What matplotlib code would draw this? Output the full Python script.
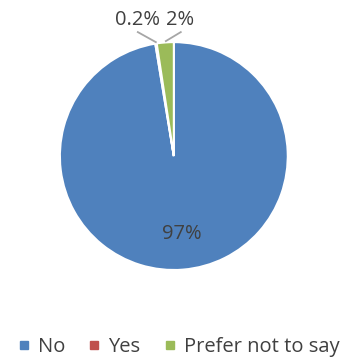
import matplotlib.pyplot as plt
from matplotlib.lines import Line2D

categories = ["No", "Yes", "Prefer not to say"]
shares = [97.4, 0.2, 2.4]
share_labels = ["97%", "0.2%", "2%"]
colors = ["#4f81bd", "#c0504d", "#9bbb59"]

plt.rcParams["font.family"] = ["Open Sans", "DejaVu Sans"]
text_color = "#404040"

fig = plt.figure(figsize=(3.48, 3.6), dpi=100)
ax = fig.add_axes([0.172, 0.250, 0.655, 0.633])

wedges, _ = ax.pie(shares, colors=colors, startangle=90, counterclock=False,
                   radius=1, wedgeprops=dict(edgecolor="white", linewidth=1.5))
ax.set_xlim(-1, 1)
ax.set_ylim(-1, 1)
ax.set_aspect("equal")
ax.axis("off")

# inside label for the big slice, callouts for the two thin ones
ax.text(0.07, -0.684, share_labels[0], ha="center", va="center",
        fontsize=14.5, color=text_color)
ax.text(-0.316, 1.19, share_labels[1], ha="center", va="center",
        fontsize=14.5, color=text_color, clip_on=False)
ax.text(0.053, 1.19, share_labels[2], ha="center", va="center",
        fontsize=14.5, color=text_color, clip_on=False)
ax.plot([-0.316, -0.158], [1.088, 1.0], color="#a6a6a6", lw=1.3, clip_on=False)
ax.plot([0.061, -0.070], [1.088, 1.009], color="#a6a6a6", lw=1.3, clip_on=False)

handles = [Line2D([], [], ls="", marker="s", markersize=6, color=c) for c in colors]
fig.legend(handles, categories, loc="center", bbox_to_anchor=(0.513, 0.036),
           ncol=3, frameon=False, fontsize=14.5, handlelength=0.6,
           handletextpad=0.4, columnspacing=1.15, labelcolor=text_color,
           borderaxespad=0, borderpad=0)

fig.savefig("out.png", dpi=100)
